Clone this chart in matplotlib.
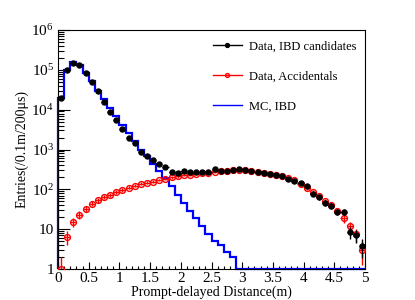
import numpy as np
import matplotlib
matplotlib.use("Agg")
import matplotlib.pyplot as plt
from matplotlib.lines import Line2D
from matplotlib.ticker import FixedLocator, FuncFormatter, LogLocator, NullFormatter, MultipleLocator

plt.rcParams['font.family'] = ['Liberation Serif', 'DejaVu Serif']
plt.rcParams['mathtext.fontset'] = 'custom'
plt.rcParams['mathtext.rm'] = 'Liberation Serif'
plt.rcParams['mathtext.it'] = 'Liberation Serif:italic'

# ---- data (50 bins of 0.1 m from 0 to 5 m) ----
bin_edges = np.round(np.arange(0, 5.01, 0.1), 2)

data_ibd = [2.0e4, 1.0e5, 1.5e5, 1.35e5, 8.3e4, 4.9e4, 2.9e4, 1.55e4, 8.7e3, 5.4e3,
            3.2e3, 2.0e3, 1.44e3, 890, 690, 530, 435, 370, 277, 263,
            290, 265, 265, 270, 280, 318, 285, 295, 300, 331,
            300, 290, 275, 263, 244, 226, 212, 185, 166, 142,
            124, 76, 63, 46, 39, 27.5, 27.5, 8.7, 7.1, 3.8]

data_acc = [1, 6.5, 15, 23, 33, 44, 54, 64, 74, 86,
            96, 110, 124, 137, 147, 156, 172, 185, 200, 210,
            225, 232, 242, 255, 263, 278, 285, 295, 302, 308,
            298, 288, 274, 262, 245, 228, 212, 190, 168, 137,
            106, 88, 68, 51, 40, 28.6, 18.8, 12, 7.6, 3.0]

mc_ibd = [2.0e4, 1.0e5, 1.55e5, 1.3e5, 8.5e4, 5.2e4, 3.0e4, 1.8e4, 1.1e4, 6.8e3,
          4.2e3, 2.6e3, 1.67e3, 1.0e3, 700, 440, 290, 190, 122, 72,
          46, 29, 19, 12, 7.6, 5, 4, 2.6, 2, 0,
          0, 0, 0, 0, 0, 0, 0, 0, 0, 0,
          0, 0, 0, 0, 0, 0, 0, 0, 0, 0]

labels = ["Data, IBD candidates", "Data, Accidentals", "MC, IBD"]
x_ticks = [0, 0.5, 1, 1.5, 2, 2.5, 3, 3.5, 4, 4.5, 5]
x_ticklabels = ["0", "0.5", "1", "1.5", "2", "2.5", "3", "3.5", "4", "4.5", "5"]

edges = np.array(bin_edges)
centers = 0.5 * (edges[:-1] + edges[1:])
halfw = 0.5 * np.diff(edges)

fig = plt.figure(figsize=(4.15, 3.0), dpi=100)
ax = fig.add_axes([58/415, 31/300, 307/415, 239/300])

ymin = 1.0
blue = '#0000ff'
red = '#ff0000'

# MC histogram
mc = np.array(mc_ibd, dtype=float)
ax.stairs(np.where(mc > 0, mc, ymin), edges, baseline=ymin, color=blue, lw=1.6,
          clip_on=False, zorder=2)

# Accidentals
acc = np.array(data_acc, dtype=float)
acc_err = np.sqrt(acc)
acc_lo = np.minimum(acc_err, acc * 0.999)
ax.errorbar(centers, acc, xerr=halfw, yerr=[acc_lo, acc_err], fmt='o', color=red,
            mfc='none', mec=red, ms=4.2, mew=1.0, elinewidth=1.0, capsize=0, zorder=3)

# IBD candidates
ibd = np.array(data_ibd, dtype=float)
ibd_err = np.sqrt(ibd)
ax.errorbar(centers, ibd, xerr=halfw, yerr=ibd_err, fmt='o', color='black',
            ms=3.6, elinewidth=1.0, capsize=0, zorder=4)

ax.set_yscale('log')
ax.set_xlim(0, 5)
ax.set_ylim(1, 1e6)

def yfmt(v, pos):
    n = int(round(np.log10(v)))
    if n == 0:
        return "1"
    if n == 1:
        return "10"
    return r"$10^{%d}$" % n

ax.yaxis.set_major_locator(LogLocator(base=10, numticks=10))
ax.yaxis.set_minor_locator(LogLocator(base=10, subs=np.arange(2, 10), numticks=20))
ax.yaxis.set_major_formatter(FuncFormatter(yfmt))
ax.yaxis.set_minor_formatter(NullFormatter())

ax.xaxis.set_major_locator(FixedLocator(x_ticks))
ax.set_xticklabels(x_ticklabels)
ax.xaxis.set_minor_locator(MultipleLocator(0.1))

ax.tick_params(axis='both', which='both', direction='in', top=False, right=False,
               labelsize=11, colors='black')
ax.tick_params(axis='y', which='major', length=8.6, width=0.8, pad=3)
ax.tick_params(axis='y', which='minor', length=4.3, width=0.8)
ax.tick_params(axis='x', which='major', length=5.0, width=0.8, pad=2)
ax.tick_params(axis='x', which='minor', length=2.5, width=0.8)

for s in ax.spines.values():
    s.set_linewidth(0.8)
    s.set_color('black')

ax.set_xlabel("Prompt-delayed Distance(m)", fontsize=10, labelpad=0.5)
ax.set_ylabel("Entries(/0.1m/200μs)", fontsize=10, labelpad=2)

handles = [
    Line2D([], [], color='black', marker='o', ms=2.8, lw=1.0),
    Line2D([], [], color=red, marker='o', ms=2.8, mfc='none', lw=1.0),
    Line2D([], [], color=blue, lw=1.0),
]
ax.legend(handles, labels, loc='upper left', bbox_to_anchor=(0.505, 0.955),
          frameon=False, fontsize=9, handlelength=2.3, handletextpad=0.55,
          labelspacing=1.42, borderpad=0, borderaxespad=0)

fig.savefig("out.png", dpi=100)
